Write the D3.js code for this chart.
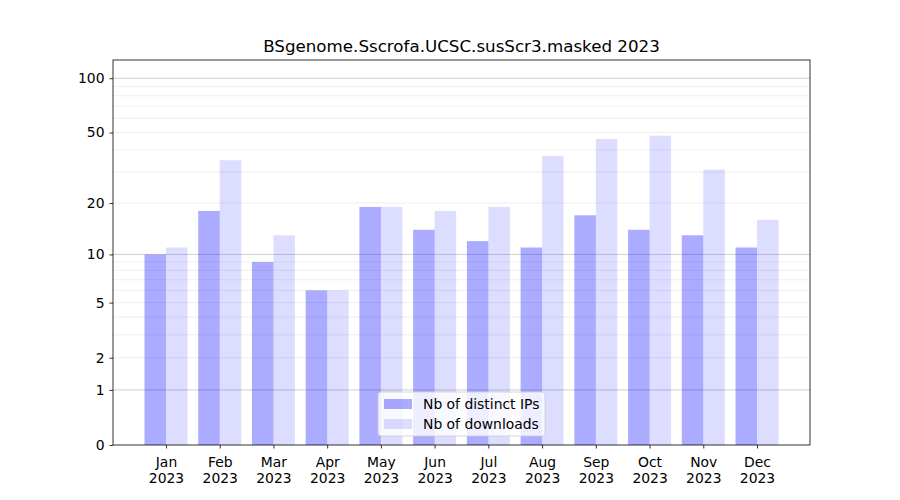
<!DOCTYPE html>
<html><head><meta charset="utf-8">
<script src="https://cdn.jsdelivr.net/npm/d3@7"></script>
<style>body{margin:0;background:#fff}svg{font-family:"DejaVu Sans",sans-serif}</style>
</head><body><svg id="c" width="900" height="500"></svg>
<script>
const months = ["Jan","Feb","Mar","Apr","May","Jun","Jul","Aug","Sep","Oct","Nov","Dec"];
const year = "2023";
const distinctIPs = [10,18,9,6,19,14,12,11,17,14,13,11];
const downloads = [11,35,13,6,19,18,19,37,46,48,31,16];
const yTickValues = [0,1,2,5,10,20,50,100];
const minorGrid = [2,3,4,5,6,7,8,9,20,30,40,50,60,70,80,90];
const majorGrid = [1,10,100];
const title = "BSgenome.Sscrofa.UCSC.susScr3.masked 2023";
const seriesNames = ["Nb of distinct IPs","Nb of downloads"];

const L=113,R=810,T=60,B=445;
const FS=13.9;
const svg=d3.select("#c");
const x=d3.scalePoint().domain(months).range([L,R]).padding(0.986);
const y=d3.scaleSymlog().constant(1).domain([0,126]).range([B,T]);
const bw=x.step()*0.4;

// grid
svg.append("g").selectAll("line").data(minorGrid).join("line")
 .attr("x1",L).attr("x2",R).attr("y1",d=>y(d)).attr("y2",d=>y(d))
 .attr("stroke","#ebebeb").attr("stroke-width",0.8);
svg.append("g").selectAll("line").data(majorGrid).join("line")
 .attr("x1",L).attr("x2",R).attr("y1",d=>y(d)).attr("y2",d=>y(d))
 .attr("stroke","#c4c4c4").attr("stroke-width",0.8);

// bars
svg.append("g").selectAll("rect").data(distinctIPs).join("rect")
 .attr("x",(d,i)=>x(months[i])-bw).attr("width",bw)
 .attr("y",d=>y(d)).attr("height",d=>B-y(d))
 .attr("fill","blue").attr("fill-opacity",0.33);
svg.append("g").selectAll("rect").data(downloads).join("rect")
 .attr("x",(d,i)=>x(months[i])).attr("width",bw)
 .attr("y",d=>y(d)).attr("height",d=>B-y(d))
 .attr("fill","blue").attr("fill-opacity",0.135);

// axes
const ya=svg.append("g").attr("transform",`translate(${L},0)`)
 .call(d3.axisLeft(y).tickValues(yTickValues).tickFormat(d3.format("d")).tickSize(3.5).tickPadding(5));
const xa=svg.append("g").attr("transform",`translate(0,${B})`)
 .call(d3.axisBottom(x).tickSize(3.5).tickPadding(5).tickFormat(()=>""));
[ya,xa].forEach(a=>{a.select(".domain").remove();a.selectAll("text").attr("font-size",FS).attr("fill","#000").attr("font-family","DejaVu Sans");a.selectAll("line").attr("stroke","#000").attr("stroke-width",0.8);});
xa.selectAll(".tick").each(function(d){
  const t=d3.select(this).append("text").attr("fill","#000").attr("font-size",FS).attr("text-anchor","middle").attr("font-family","DejaVu Sans");
  t.append("tspan").attr("x",0).attr("y",22).text(d);
  t.append("tspan").attr("x",0).attr("y",38).text(year);
});
svg.append("rect").attr("x",L).attr("y",T).attr("width",R-L).attr("height",B-T)
 .attr("fill","none").attr("stroke","#000").attr("stroke-width",0.8);

svg.append("text").attr("x",(L+R)/2).attr("y",52).attr("text-anchor","middle")
 .attr("font-size",16.7).text(title);

// legend
const lg=svg.append("g").attr("transform","translate(378,392)");
lg.append("rect").attr("width",167).attr("height",44).attr("rx",3)
 .attr("fill","#fff").attr("fill-opacity",0.8).attr("stroke","#ccc").attr("stroke-width",0.8);
const op=[0.33,0.135];
seriesNames.forEach((n,i)=>{
  lg.append("rect").attr("x",6).attr("y",7+i*20).attr("width",28).attr("height",10)
   .attr("fill","blue").attr("fill-opacity",op[i]);
  lg.append("text").attr("x",45).attr("y",17+i*20).attr("font-size",FS).text(n);
});
</script></body></html>
